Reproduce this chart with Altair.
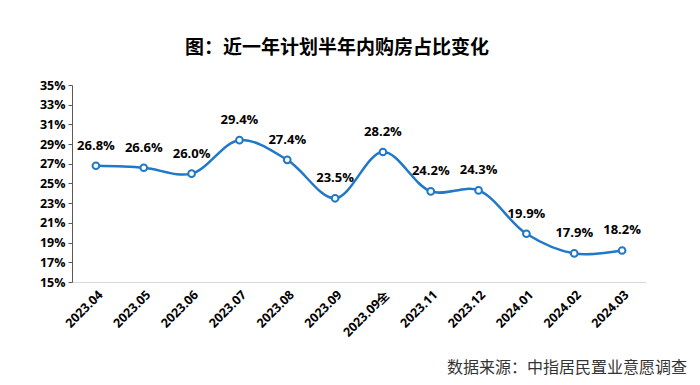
import altair as alt
import pandas as pd

months = ["2023.04", "2023.05", "2023.06", "2023.07", "2023.08", "2023.09",
          "2023.09全", "2023.11", "2023.12", "2024.01", "2024.02", "2024.03"]
shares = [26.8, 26.6, 26.0, 29.4, 27.4, 23.5, 28.2, 24.2, 24.3, 19.9, 17.9, 18.2]
y_ticks = [15, 17, 19, 21, 23, 25, 27, 29, 31, 33, 35]

df = pd.DataFrame({"month": months, "share": [v / 100 for v in shares]})
df["label"] = [f"{v:.1f}%" for v in shares]

BLUE = "#1f78c8"
LATIN = "Open Sans"
CJK = "Noto Sans CJK SC"

x = alt.X("month:N", sort=months, title=None,
          scale=alt.Scale(paddingInner=0, paddingOuter=0),
          axis=alt.Axis(labelAngle=-45, labelFont=LATIN, labelFontWeight="bold",
                        labelFontSize=12.5, labelColor="#000", ticks=False,
                        domainColor="#d9d9d9", labelPadding=6))
y = alt.Y("share:Q", title=None,
          scale=alt.Scale(domain=[0.15, 0.35], nice=False, zero=False),
          axis=alt.Axis(values=[v / 100 for v in y_ticks], format=".0%",
                        labelFont=LATIN, labelFontWeight="bold", labelFontSize=12.5,
                        labelColor="#000", grid=False, domainColor="#595959",
                        tickColor="#595959", tickSize=4, labelPadding=3))

base = alt.Chart(df)
line = base.mark_line(color=BLUE, strokeWidth=2.5, interpolate="catmull-rom").encode(x=x, y=y)
pts = base.mark_point(shape="circle", filled=True, fill="white", stroke=BLUE,
                      strokeWidth=2, size=45, opacity=1).encode(x=x, y=y)
labels = base.mark_text(dy=-20, font=LATIN, fontWeight="bold", fontSize=13,
                        color="#000").encode(x=x, y=y, text="label:N")
source = alt.Chart(pd.DataFrame({"t": ["数据来源：中指居民置业意愿调查"]})).mark_text(
    align="right", baseline="middle", font=CJK, fontSize=16, color="#333"
).encode(x=alt.value(615), y=alt.value(283), text="t:N")

chart = alt.layer(line, pts, labels, source).properties(
    width=574, height=197,
    title=alt.TitleParams("图：近一年计划半年内购房占比变化", font=CJK, fontSize=19,
                          fontWeight="bold", color="#000", anchor="middle",
                          dx=-22, offset=21),
    autosize=alt.AutoSizeParams(type="none"),
    padding={"left": 64, "top": 77, "right": 46, "bottom": 95},
).configure_view(stroke=None)

chart.save("out.html", embed_options={"renderer": "svg", "actions": False})
